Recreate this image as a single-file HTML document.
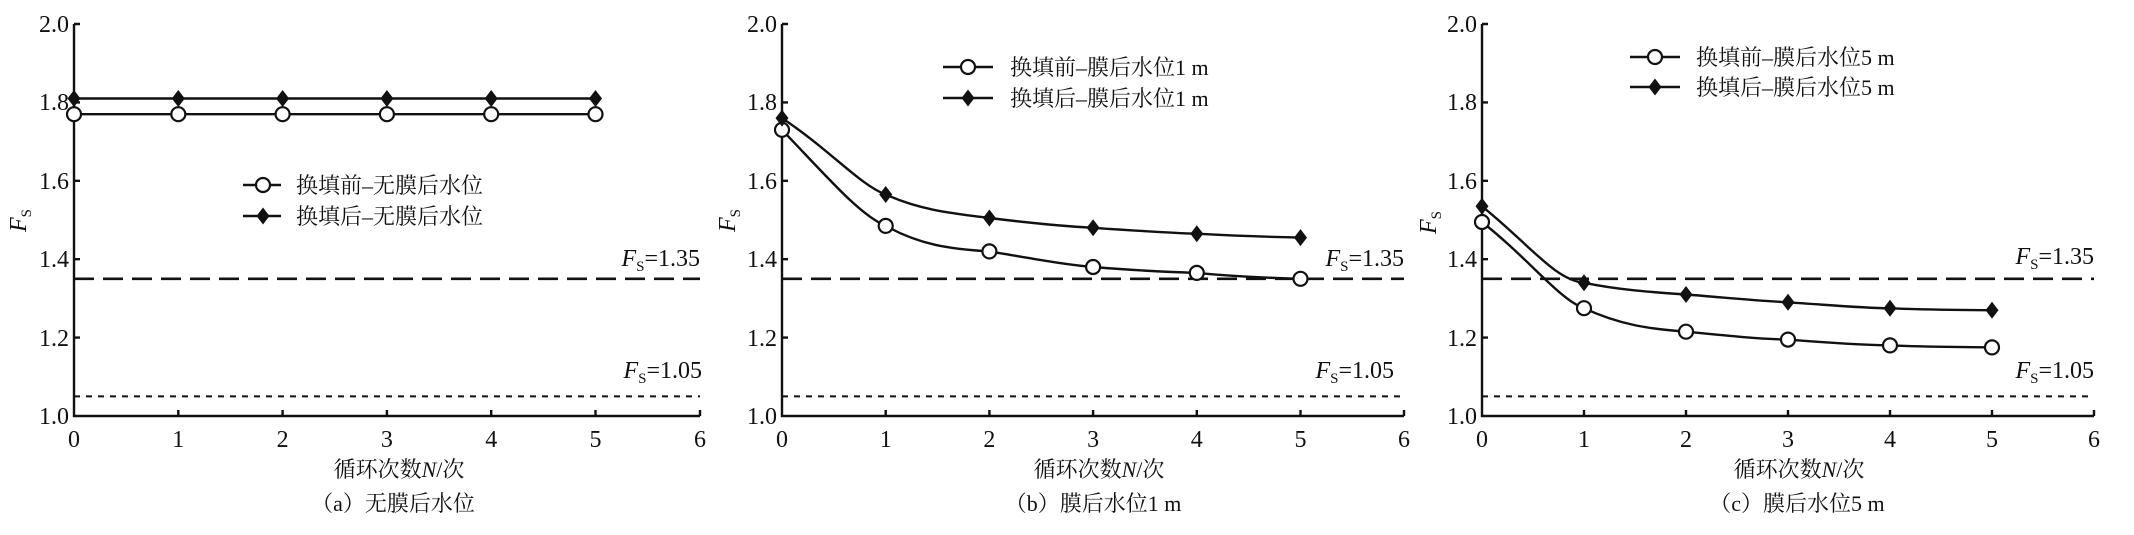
<!DOCTYPE html>
<html><head><meta charset="utf-8"><style>
html,body{margin:0;padding:0;background:#fff}
svg{display:block}
text{font-family:"Liberation Serif","Noto Serif CJK SC",serif;fill:#111}
.t{font-size:24px}
.c{font-size:22px}
</style></head><body>
<svg width="2134" height="535" viewBox="0 0 2134 535" xmlns="http://www.w3.org/2000/svg">
<defs>
<g id="o"><circle r="7" fill="#fff" stroke="#111" stroke-width="2.2"/></g>
<g id="d"><path d="M0,-8.5 L6.5,0 L0,8.5 L-6.5,0Z" fill="#111"/></g>
</defs>
<g stroke="#111" fill="none" stroke-width="2.4">
<path d="M74,24 V416 H700"/>
<path d="M74,102.4h6M74,180.8h6M74,259.2h6M74,337.6h6M74,24h6"/>
<path d="M178.3,416v-6M282.6,416v-6M386.9,416v-6M491.2,416v-6M595.5,416v-6M700,416v-6"/>
<path d="M74,278.8H700" stroke-dasharray="20,9" stroke-width="2.6"/>
<path d="M74,396.4H700" stroke-dasharray="6,6" stroke-width="2"/>
<polyline points="74,98.5 595.5,98.5"/>
<polyline points="74,114.2 595.5,114.2"/>
<path d="M243,185h38M243,216h38"/>
<path d="M782,24 V416 H1404"/>
<path d="M782,102.4h6M782,180.8h6M782,259.2h6M782,337.6h6M782,24h6"/>
<path d="M885.7,416v-6M989.4,416v-6M1093.1,416v-6M1196.8,416v-6M1300.5,416v-6M1404,416v-6"/>
<path d="M782,278.8H1404" stroke-dasharray="20,9" stroke-width="2.6"/>
<path d="M782,396.4H1404" stroke-dasharray="6,6" stroke-width="2"/>
<path d="M782,129.8 C830,180 860,215 885.7,225.9 C920,245 950,249 989.4,251.4 C1030,258 1060,264 1093.1,267 C1140,271 1170,272 1196.8,272.9 C1240,277 1270,278 1300.5,278.8"/>
<path d="M782,118.1 C830,150 860,185 885.7,194.5 C920,210 950,213 989.4,218 C1030,223 1060,226 1093.1,227.8 C1140,231 1170,233 1196.8,233.7 C1240,236 1270,237 1300.5,237.6"/>
<path d="M943,67h50M943,98h50"/>
<path d="M1482,24 V416 H2094"/>
<path d="M1482,102.4h6M1482,180.8h6M1482,259.2h6M1482,337.6h6M1482,24h6"/>
<path d="M1584,416v-6M1686,416v-6M1788,416v-6M1890,416v-6M1992,416v-6M2094,416v-6"/>
<path d="M1482,278.8H2094" stroke-dasharray="20,9" stroke-width="2.6"/>
<path d="M1482,396.4H2094" stroke-dasharray="6,6" stroke-width="2"/>
<path d="M1482,222 C1530,260 1560,300 1584,308.2 C1620,325 1650,329 1686,331.7 C1730,336 1760,339 1788,339.6 C1830,343 1860,345 1890,345.4 C1930,347 1960,347 1992,347.4"/>
<path d="M1482,206.3 C1530,245 1555,280 1584,282.8 C1620,290 1650,292 1686,294.5 C1730,298 1760,301 1788,302.3 C1830,305 1860,308 1890,308.3 C1930,310 1960,310 1992,310.2"/>
<path d="M1630,57h50M1630,87h50"/>
</g>
<g>
<use href="#d" x="74" y="98.5"/><use href="#d" x="178.3" y="98.5"/><use href="#d" x="282.6" y="98.5"/><use href="#d" x="386.9" y="98.5"/><use href="#d" x="491.2" y="98.5"/><use href="#d" x="595.5" y="98.5"/>
<use href="#o" x="74" y="114.2"/><use href="#o" x="178.3" y="114.2"/><use href="#o" x="282.6" y="114.2"/><use href="#o" x="386.9" y="114.2"/><use href="#o" x="491.2" y="114.2"/><use href="#o" x="595.5" y="114.2"/>
<use href="#o" x="263" y="185"/><use href="#d" x="263" y="216"/>
<use href="#o" x="782" y="129.8"/><use href="#o" x="885.7" y="225.9"/><use href="#o" x="989.4" y="251.4"/><use href="#o" x="1093.1" y="267"/><use href="#o" x="1196.8" y="272.9"/><use href="#o" x="1300.5" y="278.8"/>
<use href="#d" x="782" y="118.1"/><use href="#d" x="885.7" y="194.5"/><use href="#d" x="989.4" y="218"/><use href="#d" x="1093.1" y="227.8"/><use href="#d" x="1196.8" y="233.7"/><use href="#d" x="1300.5" y="237.6"/>
<use href="#o" x="968" y="67"/><use href="#d" x="968" y="98"/>
<use href="#o" x="1482" y="222"/><use href="#o" x="1584" y="308.2"/><use href="#o" x="1686" y="331.7"/><use href="#o" x="1788" y="339.6"/><use href="#o" x="1890" y="345.4"/><use href="#o" x="1992" y="347.4"/>
<use href="#d" x="1482" y="206.3"/><use href="#d" x="1584" y="282.8"/><use href="#d" x="1686" y="294.5"/><use href="#d" x="1788" y="302.3"/><use href="#d" x="1890" y="308.3"/><use href="#d" x="1992" y="310.2"/>
<use href="#o" x="1655" y="57"/><use href="#d" x="1655" y="87"/>
</g>
<g class="t" text-anchor="end">
<text x="69" y="32">2.0</text><text x="69" y="110">1.8</text><text x="69" y="189">1.6</text><text x="69" y="267">1.4</text><text x="69" y="346">1.2</text><text x="69" y="424">1.0</text>
<text x="777" y="32">2.0</text><text x="777" y="110">1.8</text><text x="777" y="189">1.6</text><text x="777" y="267">1.4</text><text x="777" y="346">1.2</text><text x="777" y="424">1.0</text>
<text x="1477" y="32">2.0</text><text x="1477" y="110">1.8</text><text x="1477" y="189">1.6</text><text x="1477" y="267">1.4</text><text x="1477" y="346">1.2</text><text x="1477" y="424">1.0</text>
</g>
<g class="t" text-anchor="middle">
<text x="74" y="447">0</text><text x="178.3" y="447">1</text><text x="282.6" y="447">2</text><text x="386.9" y="447">3</text><text x="491.2" y="447">4</text><text x="595.5" y="447">5</text><text x="700" y="447">6</text>
<text x="782" y="447">0</text><text x="885.7" y="447">1</text><text x="989.4" y="447">2</text><text x="1093.1" y="447">3</text><text x="1196.8" y="447">4</text><text x="1300.5" y="447">5</text><text x="1404" y="447">6</text>
<text x="1482" y="447">0</text><text x="1584" y="447">1</text><text x="1686" y="447">2</text><text x="1788" y="447">3</text><text x="1890" y="447">4</text><text x="1992" y="447">5</text><text x="2094" y="447">6</text>
</g>
<g class="c" text-anchor="middle">
<text x="399" y="477">循环次数<tspan font-style="italic">N</tspan>/次</text>
<text x="393" y="511">（a）无膜后水位</text>
<text x="1099" y="477">循环次数<tspan font-style="italic">N</tspan>/次</text>
<text x="1093" y="511">（b）膜后水位1 m</text>
<text x="1799" y="477">循环次数<tspan font-style="italic">N</tspan>/次</text>
<text x="1797" y="511">（c）膜后水位5 m</text>
</g>
<g class="c">
<text x="296" y="193">换填前–无膜后水位</text>
<text x="296" y="224">换填后–无膜后水位</text>
<text x="1010" y="75">换填前–膜后水位1 m</text>
<text x="1010" y="106">换填后–膜后水位1 m</text>
<text x="1696" y="65">换填前–膜后水位5 m</text>
<text x="1696" y="95">换填后–膜后水位5 m</text>
</g>
<g class="t" text-anchor="end">
<text x="700" y="266"><tspan font-style="italic">F</tspan><tspan font-size="15" dy="5">S</tspan><tspan dy="-5">=1.35</tspan></text>
<text x="702" y="378"><tspan font-style="italic">F</tspan><tspan font-size="15" dy="5">S</tspan><tspan dy="-5">=1.05</tspan></text>
<text x="1404" y="266"><tspan font-style="italic">F</tspan><tspan font-size="15" dy="5">S</tspan><tspan dy="-5">=1.35</tspan></text>
<text x="1394" y="378"><tspan font-style="italic">F</tspan><tspan font-size="15" dy="5">S</tspan><tspan dy="-5">=1.05</tspan></text>
<text x="2094" y="264"><tspan font-style="italic">F</tspan><tspan font-size="15" dy="5">S</tspan><tspan dy="-5">=1.35</tspan></text>
<text x="2094" y="378"><tspan font-style="italic">F</tspan><tspan font-size="15" dy="5">S</tspan><tspan dy="-5">=1.05</tspan></text>
</g>
<g class="t">
<text transform="translate(26,232) rotate(-90)"><tspan font-style="italic">F</tspan><tspan font-size="15" dy="5">S</tspan></text>
<text transform="translate(735,232) rotate(-90)"><tspan font-style="italic">F</tspan><tspan font-size="15" dy="5">S</tspan></text>
<text transform="translate(1436,234) rotate(-90)"><tspan font-style="italic">F</tspan><tspan font-size="15" dy="5">S</tspan></text>
</g>
</svg>
</body></html>
